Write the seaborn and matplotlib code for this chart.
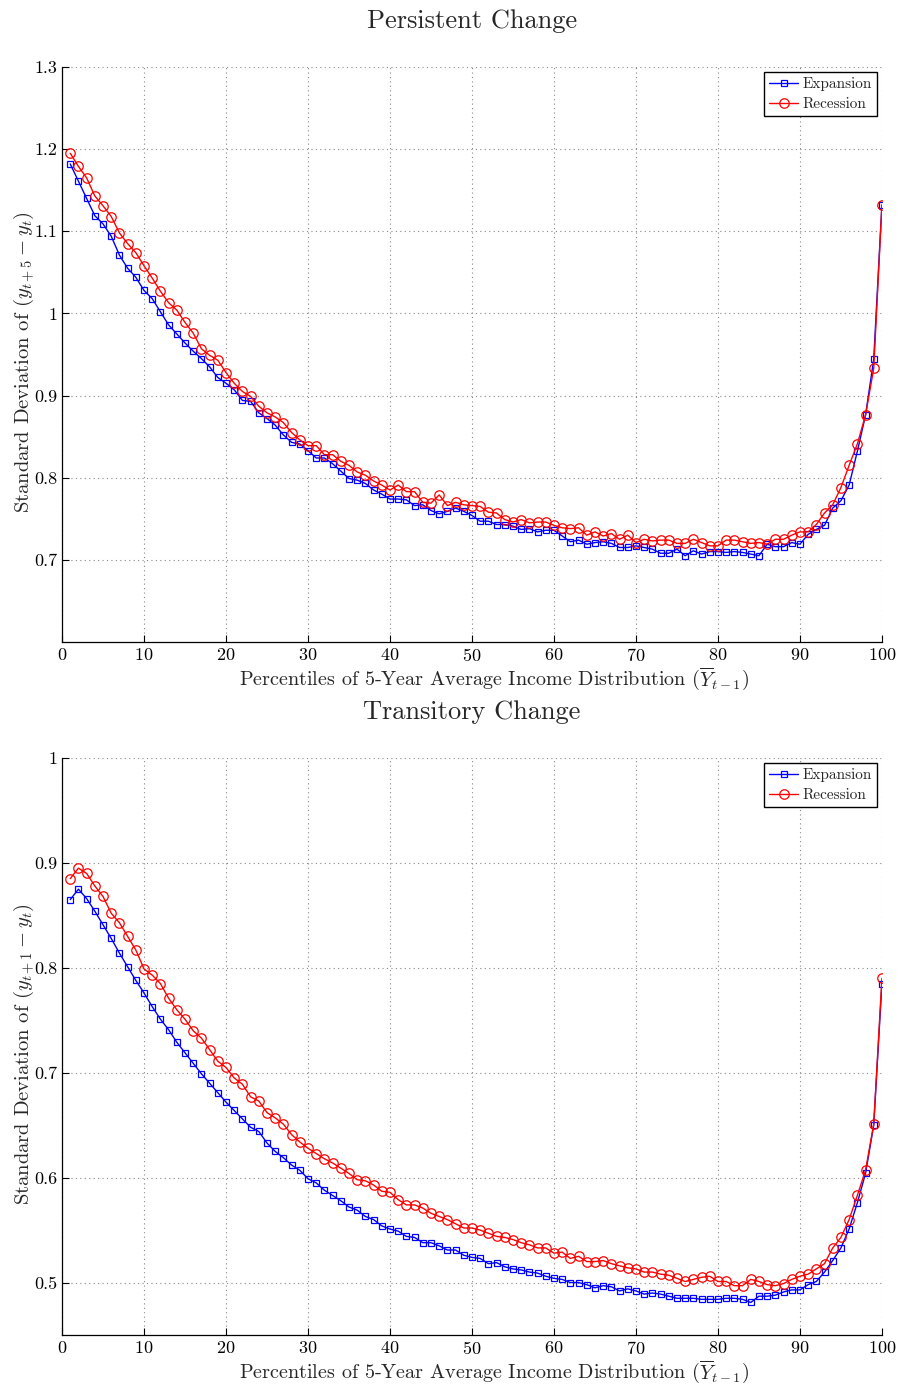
import numpy as np
import matplotlib
matplotlib.use('Agg')
import matplotlib.pyplot as plt
import seaborn as sns

# =============================================
# DATA
# =============================================
percentiles = list(range(1, 101))

pers_expansion = [
    1.182, 1.161, 1.140, 1.119, 1.109, 1.094, 1.071, 1.055, 1.044, 1.028,
    1.018, 1.002, 0.986, 0.975, 0.964, 0.954, 0.945, 0.935, 0.922, 0.915,
    0.907, 0.894, 0.893, 0.879, 0.872, 0.864, 0.852, 0.843, 0.841, 0.833,
    0.824, 0.824, 0.817, 0.808, 0.799, 0.797, 0.793, 0.785, 0.780, 0.774,
    0.774, 0.773, 0.766, 0.767, 0.760, 0.756, 0.759, 0.763, 0.759, 0.754,
    0.747, 0.747, 0.743, 0.743, 0.741, 0.737, 0.738, 0.734, 0.736, 0.736,
    0.729, 0.722, 0.724, 0.719, 0.721, 0.722, 0.720, 0.715, 0.715, 0.717,
    0.715, 0.713, 0.708, 0.708, 0.713, 0.705, 0.711, 0.707, 0.710, 0.710,
    0.709, 0.710, 0.709, 0.707, 0.705, 0.719, 0.716, 0.716, 0.721, 0.719,
    0.731, 0.737, 0.742, 0.763, 0.772, 0.791, 0.832, 0.876, 0.944, 1.132,
]
pers_recession = [
    1.195, 1.179, 1.165, 1.143, 1.131, 1.118, 1.098, 1.085, 1.074, 1.058,
    1.043, 1.027, 1.013, 1.004, 0.989, 0.976, 0.957, 0.949, 0.943, 0.928,
    0.915, 0.905, 0.899, 0.887, 0.879, 0.874, 0.867, 0.855, 0.846, 0.839,
    0.839, 0.828, 0.828, 0.820, 0.815, 0.807, 0.803, 0.796, 0.791, 0.785,
    0.791, 0.783, 0.783, 0.770, 0.769, 0.779, 0.766, 0.770, 0.767, 0.766,
    0.765, 0.758, 0.757, 0.749, 0.746, 0.749, 0.745, 0.746, 0.746, 0.742,
    0.739, 0.738, 0.739, 0.730, 0.734, 0.729, 0.732, 0.725, 0.730, 0.721,
    0.725, 0.723, 0.724, 0.724, 0.720, 0.720, 0.725, 0.721, 0.717, 0.717,
    0.724, 0.724, 0.722, 0.720, 0.721, 0.719, 0.725, 0.725, 0.730, 0.734,
    0.734, 0.743, 0.757, 0.767, 0.788, 0.815, 0.841, 0.876, 0.933, 1.132,
]

trans_expansion = [
    0.865, 0.875, 0.866, 0.854, 0.841, 0.828, 0.814, 0.801, 0.788, 0.776,
    0.763, 0.751, 0.741, 0.729, 0.719, 0.709, 0.699, 0.690, 0.681, 0.672,
    0.664, 0.656, 0.648, 0.644, 0.633, 0.625, 0.619, 0.612, 0.607, 0.599,
    0.595, 0.588, 0.583, 0.578, 0.572, 0.569, 0.563, 0.560, 0.554, 0.551,
    0.549, 0.544, 0.543, 0.538, 0.538, 0.535, 0.531, 0.531, 0.526, 0.524,
    0.523, 0.518, 0.519, 0.515, 0.513, 0.512, 0.510, 0.509, 0.506, 0.504,
    0.503, 0.500, 0.500, 0.498, 0.495, 0.497, 0.496, 0.492, 0.494, 0.492,
    0.489, 0.490, 0.489, 0.487, 0.485, 0.485, 0.485, 0.484, 0.484, 0.484,
    0.485, 0.485, 0.484, 0.481, 0.487, 0.487, 0.488, 0.491, 0.493, 0.493,
    0.498, 0.501, 0.510, 0.521, 0.533, 0.551, 0.576, 0.604, 0.650, 0.785,
]
trans_recession = [
    0.885, 0.895, 0.890, 0.878, 0.868, 0.852, 0.843, 0.830, 0.817, 0.799,
    0.793, 0.785, 0.771, 0.760, 0.751, 0.740, 0.733, 0.722, 0.711, 0.705,
    0.695, 0.689, 0.677, 0.673, 0.662, 0.657, 0.651, 0.641, 0.634, 0.628,
    0.623, 0.618, 0.614, 0.609, 0.604, 0.598, 0.597, 0.593, 0.587, 0.586,
    0.579, 0.574, 0.574, 0.571, 0.566, 0.563, 0.560, 0.556, 0.552, 0.552,
    0.550, 0.547, 0.544, 0.543, 0.541, 0.538, 0.536, 0.533, 0.533, 0.528,
    0.529, 0.523, 0.525, 0.520, 0.520, 0.521, 0.518, 0.516, 0.514, 0.513,
    0.510, 0.510, 0.508, 0.507, 0.504, 0.501, 0.503, 0.505, 0.506, 0.501,
    0.501, 0.497, 0.497, 0.503, 0.501, 0.498, 0.497, 0.499, 0.503, 0.506,
    0.508, 0.513, 0.518, 0.533, 0.543, 0.560, 0.583, 0.607, 0.651, 0.790,
]

x_ticks = list(range(0, 101, 10))
pers_yticks = [0.7, 0.8, 0.9, 1.0, 1.1, 1.2, 1.3]
trans_yticks = [0.5, 0.6, 0.7, 0.8, 0.9, 1.0]

# =============================================
# STYLE
# =============================================
sns.set_style('white')
plt.rcParams['font.family'] = ['cmr10', 'DejaVu Serif']
plt.rcParams['mathtext.fontset'] = 'cm'
plt.rcParams['axes.formatter.use_mathtext'] = True
plt.rcParams['axes.unicode_minus'] = False

fig = plt.figure(figsize=(8.99, 13.85), dpi=100)
ax_top = fig.add_axes([0.069, 0.5365, 0.912, 0.4151])
ax_bot = fig.add_axes([0.069, 0.0361, 0.912, 0.4166])

xlabel = r'Percentiles of 5-Year Average Income Distribution $(\overline{Y}_{t-1})$'

panels = [
    (ax_top, pers_expansion, pers_recession, 'Persistent Change',
     r'Standard Deviation of $(y_{t+5} - y_t)$', (0.6, 1.3), pers_yticks),
    (ax_bot, trans_expansion, trans_recession, 'Transitory Change',
     r'Standard Deviation of $(y_{t+1} - y_t)$', (0.45, 1.0), trans_yticks),
]

for ax, exp_vals, rec_vals, title, ylabel, ylim, yticks in panels:
    sns.lineplot(x=percentiles, y=exp_vals, ax=ax, color='blue', lw=1.0,
                 marker='s', markersize=5, markerfacecolor='none',
                 markeredgecolor='blue', markeredgewidth=0.9,
                 estimator=None, sort=False, label='Expansion')
    sns.lineplot(x=percentiles, y=rec_vals, ax=ax, color='red', lw=1.0,
                 marker='o', markersize=6.8, markerfacecolor='none',
                 markeredgecolor='red', markeredgewidth=0.9,
                 estimator=None, sort=False, label='Recession')

    ax.set_xlim(0, 100)
    ax.set_ylim(*ylim)
    ax.set_xticks(x_ticks)
    ax.set_yticks(yticks)
    ax.set_yticklabels([f'{v:g}' for v in yticks])
    ax.grid(True, linestyle=(0, (1, 3)), color='#888888', linewidth=0.8)
    ax.tick_params(direction='in', length=5, width=0.8, labelsize=13,
                   left=True, bottom=True, colors='black')
    for side in ['top', 'right']:
        ax.spines[side].set_visible(False)
    for side in ['left', 'bottom']:
        ax.spines[side].set_color('black')
        ax.spines[side].set_linewidth(0.9)

    ax.set_title(title, fontsize=19, pad=28)
    ax.set_xlabel(xlabel, fontsize=14.5)
    ax.xaxis.set_label_coords(0.527, -0.041)
    ax.set_ylabel(ylabel, fontsize=14.8)
    ax.yaxis.set_label_coords(-0.032, 0.487)

    leg = ax.legend(loc='upper right', fontsize=11, frameon=True,
                    fancybox=False, framealpha=1, edgecolor='black',
                    borderpad=0.3, labelspacing=0.42, handlelength=1.9,
                    handletextpad=0.3, borderaxespad=0.35)
    leg.get_frame().set_linewidth(1.0)

fig.savefig('out.png', dpi=100)
